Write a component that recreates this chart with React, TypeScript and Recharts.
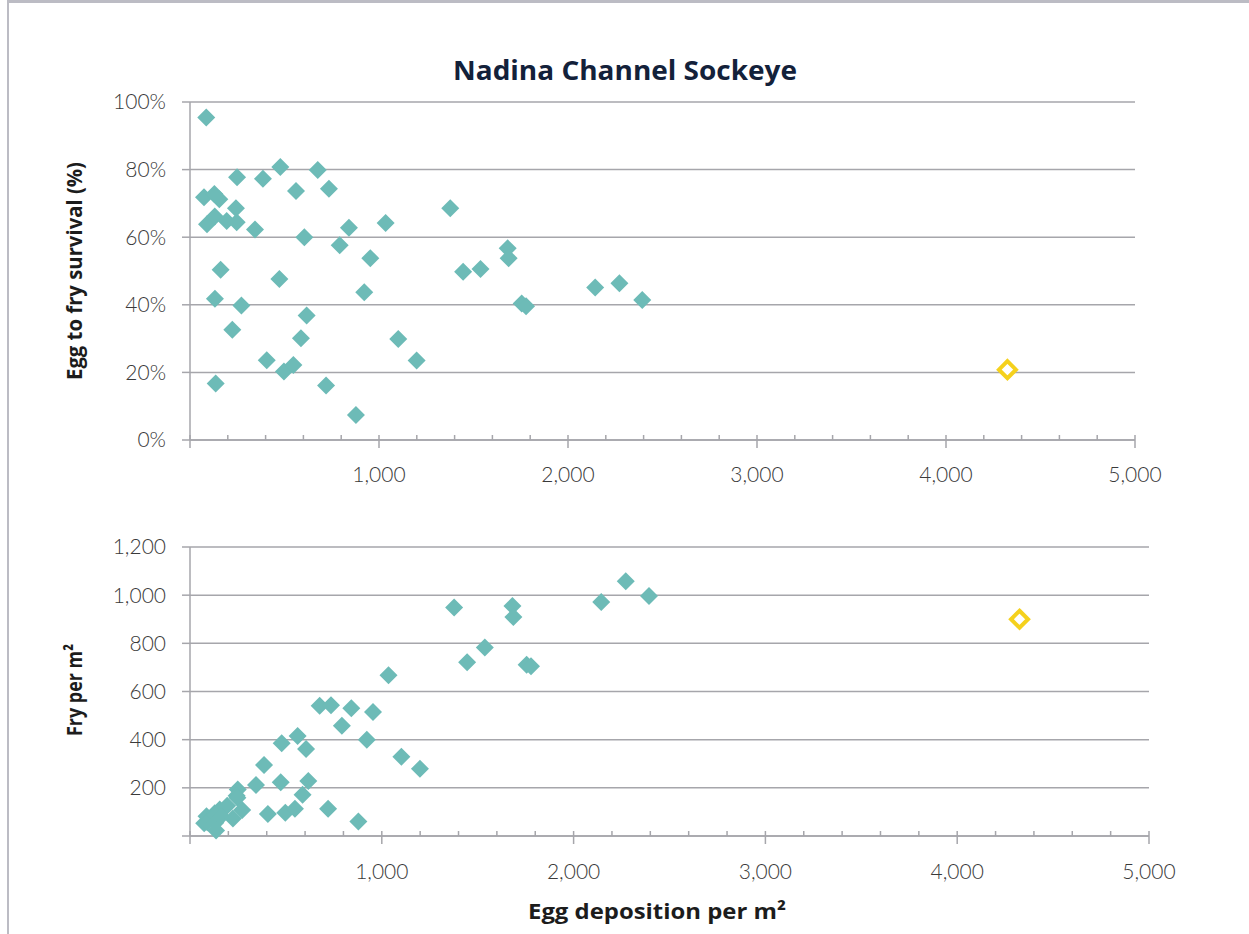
import React from 'react';
import { ScatterChart, Scatter, XAxis, YAxis, CartesianGrid } from 'recharts';

// ---- data ----
const eggDeposition = [
  86, 74, 129, 155, 249, 386, 478, 676, 561, 735,
  243, 90, 131, 194, 247, 344, 605, 841, 1035, 1377,
  792, 954, 1445, 1537, 162, 473, 922, 132, 272, 617,
  224, 587, 1102, 406, 1199, 497, 547, 136, 720, 878,
  1681, 1686, 1755, 1778, 2144, 2272, 2393,
];
const survivalPct = [
  95.4, 71.8, 72.8, 71.2, 77.7, 77.3, 80.8, 79.9, 73.7, 74.3,
  68.6, 63.8, 66.1, 64.8, 64.4, 62.3, 60.0, 62.8, 64.2, 68.6,
  57.6, 53.8, 49.8, 50.6, 50.4, 47.6, 43.7, 41.8, 39.8, 36.8,
  32.6, 30.1, 29.9, 23.6, 23.5, 20.3, 22.2, 16.7, 16.1, 7.4,
  56.7, 53.8, 40.4, 39.6, 45.1, 46.4, 41.4,
];
const fryPerM2 = [
  82, 53, 94, 110, 193, 295, 385, 541, 415, 543,
  167, 57, 87, 126, 159, 212, 361, 530, 667, 949,
  458, 515, 721, 783, 82, 223, 400, 55, 108, 228,
  73, 171, 329, 91, 279, 97, 113, 23, 113, 60,
  955, 909, 711, 705, 972, 1058, 997,
];
const highlightEgg = [4325];
const highlightSurvival = [20.8];
const highlightFry = [900];

const xTicks = [0, 200, 400, 600, 800, 1000, 1200, 1400, 1600, 1800, 2000, 2200, 2400, 2600, 2800, 3000, 3200, 3400, 3600, 3800, 4000, 4200, 4400, 4600, 4800, 5000];
const survivalTicks = [0, 20, 40, 60, 80, 100];
const fryTicks = [0, 200, 400, 600, 800, 1000, 1200];

const title = 'Nadina Channel Sockeye';
const topYTitle = 'Egg to fry survival (%)';
const bottomYTitle = 'Fry per m\u00B2';
const xTitle = 'Egg deposition per m\u00B2';

// ---- styles ----
const TEAL = '#6dbbb7';
const YELLOW = '#f5d11d';
const GRID = '#a6a6ab';
const TICK_TEXT = '#3a3a3a';
const FONT = 'Lato, "Open Sans", sans-serif';
const TITLE_FONT = '"Open Sans", Lato, sans-serif';

const topData = eggDeposition.map((x, i) => ({ x, y: survivalPct[i] }));
const topHighlight = highlightEgg.map((x, i) => ({ x, y: highlightSurvival[i] }));
const bottomData = eggDeposition.map((x, i) => ({ x, y: fryPerM2[i] }));
const bottomHighlight = highlightEgg.map((x, i) => ({ x, y: highlightFry[i] }));

const TealDiamond = (props: any) => {
  const { cx, cy } = props;
  const r = 9;
  return (
    <polygon
      points={`${cx},${cy - r} ${cx + r},${cy} ${cx},${cy + r} ${cx - r},${cy}`}
      fill={TEAL}
    />
  );
};

const HollowDiamond = (props: any) => {
  const { cx, cy } = props;
  const r = 8.5;
  return (
    <polygon
      points={`${cx},${cy - r} ${cx + r},${cy} ${cx},${cy + r} ${cx - r},${cy}`}
      fill="#ffffff"
      stroke={YELLOW}
      strokeWidth={4}
      strokeLinejoin="miter"
    />
  );
};

const makeXTick = (axisY: number, labelY: number) => (props: any) => {
  const { x, payload } = props;
  const v = payload.value as number;
  const major = v % 1000 === 0;
  return (
    <g>
      <line x1={x} x2={x} y1={axisY - 5} y2={major ? axisY + 8 : axisY} stroke={GRID} strokeWidth={1.5} />
      {major && v !== 0 && (
        <text
          x={x}
          y={labelY}
          textAnchor="middle"
          dominantBaseline="central"
          fontFamily={FONT}
          fontWeight={300}
          fontSize={21}
          fill={TICK_TEXT}
        >
          {v.toLocaleString('en-US')}
        </text>
      )}
    </g>
  );
};

const W = 1249;
const H = 934;

const yTick = { fontFamily: FONT, fontSize: 21, fontWeight: 300, fill: TICK_TEXT };

export default function App() {
  return (
    <div style={{ position: 'fixed', left: 0, top: 0, width: W, height: H, background: '#fff', overflow: 'hidden' }}>
      <div
        style={{
          position: 'absolute',
          left: 7,
          top: 0,
          width: W,
          height: H,
          borderTop: '3px solid #bcbcc4',
          borderLeft: '2px solid #bcbcc4',
          boxSizing: 'border-box',
        }}
      />
      {/* top chart */}
      <div style={{ position: 'absolute', left: 0, top: 0 }}>
        <ScatterChart width={W} height={H} margin={{ top: 102, right: 114, left: 0, bottom: 934 - 440 - 30 }}>
          <CartesianGrid vertical={false} stroke={GRID} strokeWidth={1.5} horizontalValues={survivalTicks} />
          <XAxis
            type="number"
            dataKey="x"
            domain={[0, 5000]}
            ticks={xTicks}
            interval={0}
            height={30}
            axisLine={{ stroke: GRID, strokeWidth: 1.5 }}
            tickLine={false}
            tick={makeXTick(440, 473)}
            allowDataOverflow
          />
          <YAxis
            type="number"
            dataKey="y"
            domain={[0, 100]}
            ticks={survivalTicks}
            interval={0}
            width={190}
            axisLine={{ stroke: GRID, strokeWidth: 1.5 }}
            tickLine={{ stroke: GRID, strokeWidth: 1.5 }}
            tickSize={8}
            tickMargin={16}
            tickFormatter={(v: number) => `${v}%`}
            tick={yTick}
          />
          <Scatter data={topData} shape={TealDiamond} isAnimationActive={false} />
          <Scatter data={topHighlight} shape={HollowDiamond} isAnimationActive={false} />
        </ScatterChart>
      </div>
      {/* bottom chart */}
      <div style={{ position: 'absolute', left: 0, top: 0 }}>
        <ScatterChart width={W} height={H} margin={{ top: 547, right: 100, left: 0, bottom: 934 - 836 - 30 }}>
          <CartesianGrid vertical={false} stroke={GRID} strokeWidth={1.5} horizontalValues={fryTicks} />
          <XAxis
            type="number"
            dataKey="x"
            domain={[0, 5000]}
            ticks={xTicks}
            interval={0}
            height={30}
            axisLine={{ stroke: GRID, strokeWidth: 1.5 }}
            tickLine={false}
            tick={makeXTick(836, 870)}
            allowDataOverflow
          />
          <YAxis
            type="number"
            dataKey="y"
            domain={[0, 1200]}
            ticks={fryTicks}
            interval={0}
            width={190}
            axisLine={{ stroke: GRID, strokeWidth: 1.5 }}
            tickLine={{ stroke: GRID, strokeWidth: 1.5 }}
            tickSize={8}
            tickMargin={16}
            tickFormatter={(v: number) => (v === 0 ? '' : v.toLocaleString('en-US'))}
            tick={yTick}
          />
          <Scatter data={bottomData} shape={TealDiamond} isAnimationActive={false} />
          <Scatter data={bottomHighlight} shape={HollowDiamond} isAnimationActive={false} />
        </ScatterChart>
      </div>
      {/* titles */}
      <svg width={W} height={H} style={{ position: 'absolute', left: 0, top: 0, pointerEvents: 'none' }}>
        <text
          x={625}
          y={70}
          textAnchor="middle"
          dominantBaseline="central"
          fontFamily={TITLE_FONT}
          fontWeight={700}
          fontSize={26}
          fill="#13213a"
          textLength={344}
          lengthAdjust="spacingAndGlyphs"
        >
          {title}
        </text>
        <text
          x={73}
          y={271}
          textAnchor="middle"
          dominantBaseline="central"
          fontFamily={TITLE_FONT}
          fontWeight={700}
          fontSize={22}
          fill="#1c1c1c"
          textLength={218}
          lengthAdjust="spacingAndGlyphs"
          transform="rotate(-90 73 271)"
        >
          {topYTitle}
        </text>
        <text
          x={73}
          y={690}
          textAnchor="middle"
          dominantBaseline="central"
          fontFamily={TITLE_FONT}
          fontWeight={700}
          fontSize={22}
          fill="#1c1c1c"
          textLength={92}
          lengthAdjust="spacingAndGlyphs"
          transform="rotate(-90 73 690)"
        >
          {bottomYTitle}
        </text>
        <text
          x={657}
          y={910}
          textAnchor="middle"
          dominantBaseline="central"
          fontFamily={TITLE_FONT}
          fontWeight={700}
          fontSize={22}
          fill="#1c1c1c"
          textLength={258}
          lengthAdjust="spacingAndGlyphs"
        >
          {xTitle}
        </text>
      </svg>
    </div>
  );
}
